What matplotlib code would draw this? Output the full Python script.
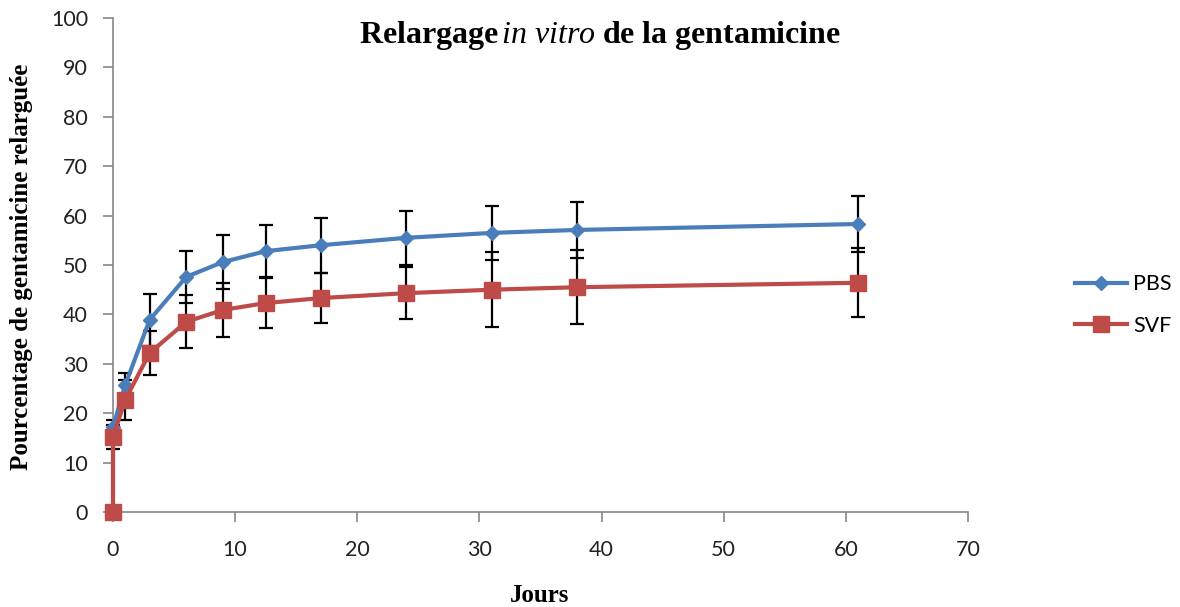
import matplotlib.pyplot as plt

plt.rcParams['font.family'] = ['Lato', 'DejaVu Sans']
plt.rcParams['mathtext.fontset'] = 'custom'
plt.rcParams['mathtext.rm'] = 'Liberation Serif:bold'
plt.rcParams['mathtext.bf'] = 'Liberation Serif:bold'
plt.rcParams['mathtext.it'] = 'Liberation Serif:italic'

jours = [0, 0, 1, 3, 6, 9, 12.5, 17, 24, 31, 38, 61]
pbs = [0, 17.2, 25.7, 38.9, 47.6, 50.6, 52.8, 54.0, 55.5, 56.5, 57.1, 58.3]
pbs_err = [0, 1.5, 2.4, 5.2, 5.2, 5.5, 5.2, 5.6, 5.4, 5.5, 5.6, 5.7]
svf = [0, 15.2, 22.7, 32.2, 38.5, 40.9, 42.3, 43.3, 44.3, 45.0, 45.5, 46.4]
svf_err = [0, 2.4, 4.0, 4.5, 5.4, 5.5, 5.1, 5.0, 5.3, 7.6, 7.5, 7.0]

blue = '#4A7EBB'
red = '#BE4B48'
grey = '#868686'

fig = plt.figure(figsize=(11.8, 6.07), dpi=100)
ax = fig.add_axes([113 / 1180, 1 - 512 / 607, (968 - 113) / 1180, (512 - 18) / 607])

for vals, errs in [(pbs, pbs_err), (svf, svf_err)]:
    eb = ax.errorbar(jours, vals, yerr=errs, fmt='none', ecolor='black', elinewidth=1.6,
                     capsize=5, capthick=1.6, zorder=2)
    for art in eb.lines[1] + eb.lines[2]:
        art.set_clip_on(False)
ax.plot(jours, pbs, color=blue, lw=3, marker='D', ms=7.5, label='PBS', zorder=3, clip_on=False)
ax.plot(jours, svf, color=red, lw=3, marker='s', ms=11.5, label='SVF', zorder=4, clip_on=False)

ax.set_xlim(0, 70)
ax.set_ylim(0, 100)
ax.set_xticks(range(0, 71, 10))
ax.set_yticks(range(0, 101, 10))
for side in ['top', 'right']:
    ax.spines[side].set_visible(False)
for side in ['left', 'bottom']:
    ax.spines[side].set_color(grey)
    ax.spines[side].set_linewidth(1.2)
ax.tick_params(axis='both', colors=grey, length=7, width=1.2, labelcolor='#222222', labelsize=15.5)
ax.tick_params(axis='x', pad=13)
ax.tick_params(axis='y', pad=11)

fig.text(600 / 1180, 1 - 35 / 607,
         r'$\mathbf{Relargage}\,\mathit{in\ vitro}\ \mathbf{de\ la\ gentamicine}$',
         ha='center', va='center', fontsize=23)
fig.text(22 / 1180, 1 - 267 / 607, 'Pourcentage de gentamicine relarguée',
         rotation=90, ha='center', va='center', fontsize=18,
         family='Liberation Serif', fontweight='bold')
fig.text(540 / 1180, 1 - 596 / 607, 'Jours', ha='center', va='center', fontsize=18,
         family='Liberation Serif', fontweight='bold')

fig.legend(loc='center left', bbox_to_anchor=(1075 / 1180, 1 - 305 / 607), frameon=False,
           fontsize=15.5, handlelength=2.4, labelspacing=1.0, handletextpad=0.3,
           borderpad=0, borderaxespad=0)

fig.savefig('out.png', dpi=100)
